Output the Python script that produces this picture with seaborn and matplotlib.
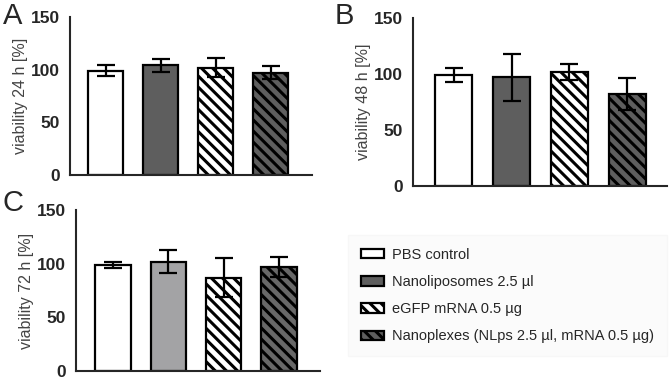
import matplotlib
matplotlib.use("Agg")
import matplotlib.pyplot as plt
import seaborn as sns
import pandas as pd
from matplotlib.patches import Patch

# conditions (legend labels)
groups = ["PBS control", "Nanoliposomes 2.5 µl", "eGFP mRNA 0.5 µg",
          "Nanoplexes (NLps 2.5 µl, mRNA 0.5 µg)"]
hatches = ["", "", "\\\\\\", "\\\\\\"]

# viability mean and error per time point
mean_24 = [99, 104, 102, 97]
err_24 = [5, 6, 9, 6]
mean_48 = [99, 97, 102, 82]
err_48 = [6, 21, 7, 14]
mean_72 = [99, 102, 87, 97]
err_72 = [3, 11, 18, 9]

colors_ab = ["white", "#5e5e5e", "white", "#5e5e5e"]
colors_c = ["white", "#a3a3a5", "white", "#686868"]
yticks = [0, 50, 100, 150]


def panel(fig, rect, means, errs, colors, hours, xlim):
    ax = fig.add_axes(rect)
    df = pd.DataFrame({"group": groups, "viability": means, "err": errs})
    sns.barplot(data=df, x="group", y="viability", hue="group",
                palette=colors, legend=False, errorbar=None, width=0.64,
                edgecolor="black", linewidth=1.6, ax=ax, zorder=2)
    for p, h in zip(ax.patches, hatches):
        p.set_hatch(h)
    ax.errorbar(df["group"], df["viability"], yerr=df["err"], fmt="none",
                ecolor="black", elinewidth=1.6, capsize=6.5, capthick=1.6,
                zorder=3)
    ax.set_ylim(0, 150)
    ax.set_xlim(*xlim)
    ax.set_yticks(yticks)
    ax.set_yticklabels([str(t) for t in yticks], fontweight="bold",
                       fontsize=12.5)
    ax.set_xticks(range(4))
    ax.set_xticklabels([])
    ax.set_xlabel("")
    ax.set_ylabel(f"viability {hours} h [%]", fontsize=11.5, color="#444444",
                  labelpad=2.5)
    ax.tick_params(axis="y", length=5, width=1.5, pad=2)
    ax.tick_params(axis="x", length=4, width=1.5)
    for s in ["top", "right"]:
        ax.spines[s].set_visible(False)
    for s in ["left", "bottom"]:
        ax.spines[s].set_linewidth(1.5)
    return ax


def main():
    sns.set_style("white")
    plt.rcParams["font.family"] = ["Liberation Sans", "DejaVu Sans"]
    plt.rcParams["hatch.linewidth"] = 2.2
    fig = plt.figure(figsize=(6.7, 3.82), dpi=100)

    panel(fig, [0.1045, 0.542, 0.361, 0.4136], mean_24, err_24, colors_ab,
          24, (-0.65, 3.75))
    panel(fig, [0.6164, 0.513, 0.379, 0.44], mean_48, err_48, colors_ab,
          48, (-0.71, 3.69))
    panel(fig, [0.1134, 0.0288, 0.364, 0.4215], mean_72, err_72, colors_c,
          72, (-0.67, 3.74))

    fig.text(0.004, 0.995, "A", fontsize=21, va="top", ha="left")
    fig.text(0.500, 0.995, "B", fontsize=21, va="top", ha="left")
    fig.text(0.004, 0.505, "C", fontsize=21, va="top", ha="left")

    handles = [Patch(facecolor=c, edgecolor="black", linewidth=1.6, hatch=h)
               for c, h in zip(["white", "#5e5e5e", "white", "#5e5e5e"],
                               hatches)]
    leg = fig.legend(handles, groups, loc="center left",
                     bbox_to_anchor=(0.508, 0.226), fontsize=10.5,
                     frameon=True, handlelength=1.6, handleheight=0.6,
                     labelspacing=0.9, handletextpad=0.55, borderpad=0.9,
                     fancybox=False)
    leg.get_frame().set_facecolor("#fbfbfb")
    leg.get_frame().set_edgecolor("#f6f6f6")

    plt.savefig("out.png", dpi=100)
    plt.close()


if __name__ == "__main__":
    main()
